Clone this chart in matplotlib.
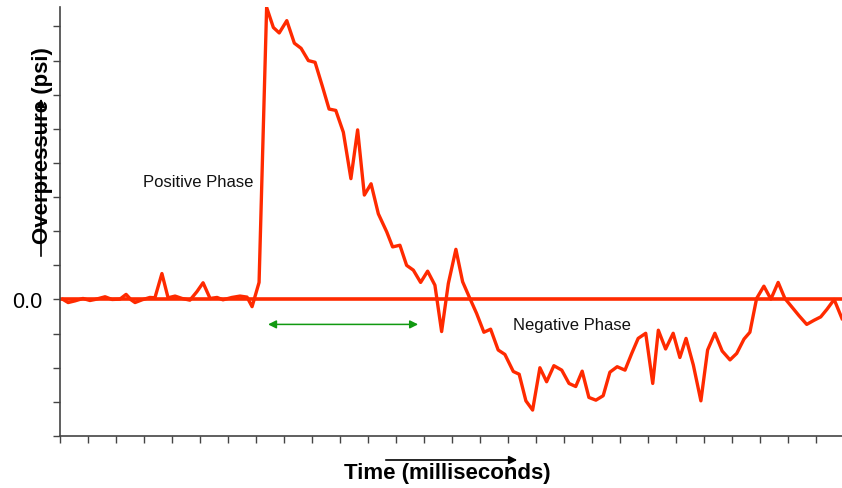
import matplotlib
matplotlib.use("Agg")
import matplotlib.pyplot as plt
import numpy as np

plt.rcParams['font.family'] = ['Liberation Sans', 'DejaVu Sans']

# time in tick units, overpressure in tick units
time_ms = [0.11, 0.29, 0.54, 0.82, 1.07, 1.25, 1.61, 1.86, 2.14, 2.36, 2.54, 2.68,
           2.93, 3.21, 3.39, 3.64, 3.86, 4.11, 4.36, 4.64, 4.89, 5.11, 5.36, 5.61,
           5.82, 6.14, 6.43, 6.68, 6.86, 7.11, 7.38, 7.62, 7.83, 8.10, 8.37, 8.61,
           8.87, 9.11, 9.37, 9.61, 9.85, 10.12, 10.39, 10.63, 10.87, 11.11, 11.37,
           11.67, 11.88, 12.14, 12.38, 12.62, 12.88, 13.13, 13.39, 13.63, 13.87,
           14.14, 14.38, 14.64, 14.88, 15.14, 15.38, 15.65, 15.89, 16.19, 16.40,
           16.64, 16.88, 17.14, 17.38, 17.64, 17.92, 18.18, 18.42, 18.65, 18.89,
           19.14, 19.40, 19.64, 19.90, 20.18, 20.42, 20.65, 20.92, 21.17, 21.37,
           21.63, 21.90, 22.14, 22.36, 22.62, 22.89, 23.13, 23.39, 23.65, 23.93,
           24.17, 24.43, 24.64, 24.88, 25.14, 25.39, 25.65, 25.89, 26.13, 26.40,
           26.67, 26.93, 27.17, 27.40, 27.65, 27.93]
overpressure = [0.0, -0.09, -0.04, 0.03, -0.03, 0.0, 0.08, 0.0, 0.01, 0.15, -0.01, -0.09,
                -0.01, 0.06, 0.05, 0.76, 0.05, 0.10, 0.03, -0.02, 0.23, 0.49, 0.03, 0.06,
                -0.01, 0.06, 0.10, 0.07, -0.21, 0.50, 8.56, 7.97, 7.81, 8.17, 7.51, 7.36,
                7.00, 6.95, 6.25, 5.58, 5.54, 4.90, 3.54, 4.97, 3.06, 3.39, 2.51,
                1.98, 1.54, 1.59, 1.00, 0.86, 0.50, 0.83, 0.42, -0.94, 0.47,
                1.47, 0.52, 0.03, -0.41, -0.96, -0.87, -1.48, -1.61, -2.11, -2.19,
                -2.97, -3.24, -2.00, -2.41, -1.94, -2.07, -2.46, -2.55, -2.10, -2.87,
                -2.95, -2.82, -2.13, -1.97, -2.07, -1.58, -1.14, -0.99, -2.46, -0.90,
                -1.45, -0.99, -1.70, -1.14, -1.92, -2.97, -1.48, -0.99, -1.51, -1.77,
                -1.58, -1.16, -0.96, 0.03, 0.39, 0.01, 0.50, 0.03, -0.21, -0.48,
                -0.73, -0.61, -0.51, -0.28, 0.0, -0.56]

phase_labels = ["Positive Phase", "Negative Phase"]
phase_pos = [(4.95, 3.45), (18.29, -0.73)]
duration = (7.43, 12.79, -0.73)

red = '#FF2A00'
W, H = 842, 489
fig = plt.figure(figsize=(W / 100, H / 100), dpi=100)
ax = fig.add_axes([60 / W, 52 / H, 782 / W, 429 / H])

ax.axhline(0, color=red, lw=2.6, zorder=2)
ax.plot(time_ms, overpressure, color=red, lw=2.4, zorder=3)

ax.set_xlim(0, 27.93)
ax.set_ylim(-4, 8.57)
ax.set_xticks(np.arange(0, 28))
ax.set_yticks(np.arange(-4, 9))
ax.set_xticklabels([])
ax.set_yticklabels(['0.0' if v == 0 else '' for v in range(-4, 9)], fontsize=15.5)
ax.tick_params(direction='out', length=5, width=1, color='#444444', pad=8)
for s in ['top', 'right']:
    ax.spines[s].set_visible(False)
for s in ['left', 'bottom']:
    ax.spines[s].set_color('#444444')
    ax.spines[s].set_linewidth(1.2)

for lab, (tx, ty) in zip(phase_labels, phase_pos):
    ax.text(tx, ty, lab, fontsize=12, ha='center', va='center', color='#111111')

ax.annotate('', xy=(duration[0], duration[2]), xytext=(duration[1], duration[2]),
            arrowprops=dict(arrowstyle='<|-|>', color='#119911', lw=1.1,
                            mutation_scale=12, shrinkA=0, shrinkB=0))

# axis titles with their arrows
fig.text(447 / W, 1 - 474 / H, 'Time (milliseconds)', fontsize=16, fontweight='bold',
         ha='center', va='center')
fig.text(43 / W, 1 - 146 / H, 'Overpressure (psi)', fontsize=16, fontweight='bold',
         ha='center', va='center', rotation=90)
fig.add_artist(matplotlib.patches.FancyArrowPatch(
    (383 / W, 1 - 461 / H), (520 / W, 1 - 461 / H), transform=fig.transFigure,
    arrowstyle='-|>', mutation_scale=12, color='black', lw=1.2))
fig.add_artist(matplotlib.patches.FancyArrowPatch(
    (41 / W, 1 - 260 / H), (41 / W, 1 - 97 / H), transform=fig.transFigure,
    arrowstyle='-|>', mutation_scale=12, color='black', lw=1.2))

fig.savefig('out.png', dpi=100)
